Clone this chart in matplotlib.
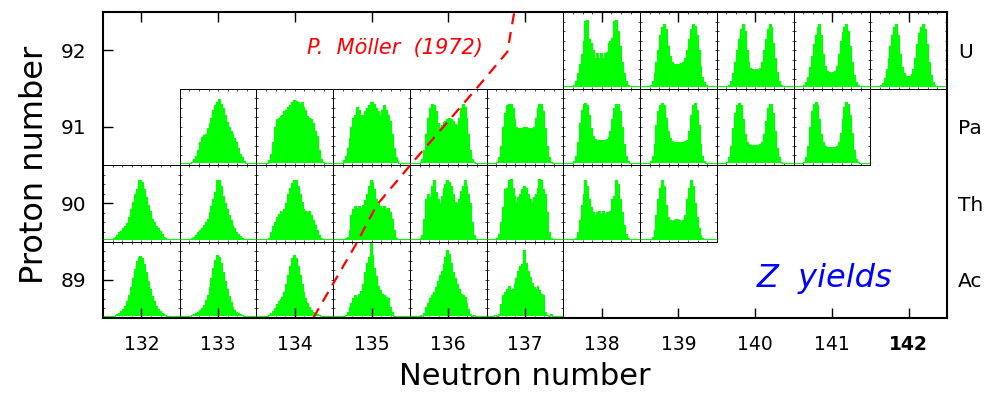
import matplotlib
matplotlib.use("Agg")
import matplotlib.pyplot as plt
import numpy as np

# neutron / proton grid
neutrons = [132, 133, 134, 135, 136, 137, 138, 139, 140, 141, 142]
protons = [89, 90, 91, 92]
element_names = ["Ac", "Th", "Pa", "U"]

# charge-yield histograms, heights in % of the panel, bins 4..35 of 40
u_yields = {
    138: [3, 5, 10, 20, 32, 45, 62, 88, 90, 65, 60, 50, 40, 46, 40, 46, 40, 46, 48, 60, 62, 66, 88, 90, 75, 55, 35, 20, 10, 5, 3, 3],
    139: [3, 5, 10, 20, 35, 50, 70, 80, 85, 78, 55, 42, 35, 32, 32, 32, 32, 33, 35, 40, 50, 65, 78, 85, 82, 70, 50, 30, 15, 8, 4, 3],
    140: [3, 3, 5, 10, 20, 35, 50, 65, 78, 84, 75, 50, 35, 27, 25, 24, 25, 24, 27, 35, 50, 65, 78, 84, 80, 60, 40, 22, 10, 5, 3, 3],
    141: [3, 4, 8, 15, 28, 42, 58, 70, 80, 84, 70, 45, 30, 23, 21, 20, 21, 23, 30, 45, 62, 74, 80, 84, 75, 55, 35, 18, 8, 4, 3, 3],
    142: [3, 4, 7, 14, 26, 40, 56, 70, 80, 84, 70, 45, 28, 20, 17, 16, 17, 19, 25, 40, 58, 72, 80, 84, 78, 58, 35, 18, 8, 4, 3, 3],
}
pa_yields = {
    133: [3, 3, 4, 8, 12, 20, 30, 36, 39, 41, 48, 55, 62, 72, 78, 82, 86, 80, 75, 65, 56, 50, 44, 40, 35, 30, 22, 14, 10, 5, 3, 3],
    134: [3, 3, 6, 15, 30, 50, 60, 62, 64, 66, 70, 72, 76, 78, 82, 85, 84, 82, 80, 82, 76, 72, 64, 62, 60, 55, 45, 38, 20, 8, 4, 3],
    135: [3, 6, 12, 22, 35, 50, 62, 66, 76, 72, 66, 66, 70, 74, 78, 82, 82, 80, 74, 70, 66, 72, 78, 72, 65, 58, 40, 22, 10, 5, 3, 3],
    136: [3, 4, 8, 20, 40, 62, 75, 80, 78, 70, 55, 50, 52, 56, 58, 60, 61, 60, 58, 54, 52, 62, 75, 80, 76, 62, 40, 20, 8, 4, 3, 3],
    137: [3, 4, 10, 25, 50, 68, 78, 80, 80, 75, 60, 50, 47, 48, 49, 50, 50, 49, 48, 47, 50, 62, 75, 80, 80, 70, 48, 25, 10, 4, 3, 3],
    138: [3, 5, 12, 30, 55, 72, 80, 81, 78, 65, 48, 38, 34, 33, 33, 33, 33, 33, 34, 36, 45, 60, 75, 80, 80, 70, 50, 28, 12, 5, 3, 3],
    139: [3, 5, 12, 28, 52, 70, 79, 81, 78, 62, 45, 35, 31, 30, 30, 30, 30, 30, 30, 31, 33, 45, 65, 78, 81, 72, 52, 28, 12, 5, 3, 3],
    140: [3, 4, 10, 25, 48, 68, 78, 81, 78, 60, 40, 30, 27, 26, 26, 26, 26, 26, 27, 30, 40, 58, 74, 80, 80, 68, 45, 22, 10, 4, 3, 3],
    141: [3, 4, 10, 25, 50, 70, 80, 83, 78, 60, 40, 30, 25, 24, 23, 24, 23, 24, 25, 30, 42, 60, 76, 82, 80, 65, 42, 20, 8, 4, 3, 3],
}
th_yields = {
    132: [3, 4, 6, 9, 12, 14, 17, 20, 24, 32, 42, 52, 62, 68, 80, 80, 78, 68, 58, 48, 40, 30, 25, 20, 17, 14, 10, 6, 4, 3, 3, 3],
    133: [3, 3, 4, 6, 9, 12, 15, 18, 21, 25, 30, 38, 46, 55, 65, 80, 80, 72, 60, 50, 42, 34, 28, 22, 17, 13, 10, 7, 4, 3, 3, 3],
    134: [3, 3, 5, 12, 20, 26, 32, 36, 40, 38, 42, 50, 62, 70, 76, 80, 80, 72, 62, 52, 42, 40, 38, 40, 34, 28, 22, 15, 8, 4, 3, 3],
    135: [3, 3, 4, 6, 15, 35, 42, 46, 44, 46, 44, 48, 54, 62, 72, 80, 78, 68, 56, 50, 46, 44, 46, 42, 44, 38, 30, 15, 5, 3, 3, 3],
    136: [3, 4, 8, 30, 55, 62, 58, 72, 80, 65, 55, 50, 60, 70, 75, 80, 78, 72, 62, 52, 50, 56, 66, 72, 80, 72, 62, 50, 25, 8, 3, 3],
    137: [3, 4, 10, 25, 45, 68, 70, 80, 82, 70, 60, 52, 58, 62, 68, 72, 70, 62, 55, 52, 58, 62, 70, 82, 80, 68, 62, 38, 12, 4, 3, 3],
    138: [3, 3, 5, 12, 28, 48, 62, 80, 72, 55, 45, 38, 34, 38, 40, 36, 40, 36, 38, 34, 40, 55, 60, 80, 75, 55, 38, 22, 10, 4, 3, 3],
    139: [3, 3, 6, 15, 35, 55, 70, 80, 72, 48, 32, 28, 27, 28, 30, 30, 28, 27, 28, 35, 55, 70, 80, 72, 50, 32, 18, 8, 4, 3, 3, 3],
}
ac_yields = {
    132: [3, 3, 4, 5, 7, 9, 12, 16, 22, 30, 40, 52, 64, 74, 80, 81, 78, 70, 60, 48, 38, 29, 22, 16, 12, 9, 7, 5, 4, 3, 3, 3],
    133: [3, 3, 4, 5, 6, 8, 10, 13, 17, 23, 30, 40, 52, 65, 76, 83, 80, 72, 60, 48, 38, 29, 21, 15, 11, 8, 6, 5, 4, 3, 3, 3],
    134: [3, 3, 4, 6, 9, 13, 18, 22, 25, 28, 34, 44, 56, 68, 78, 83, 78, 68, 56, 44, 34, 26, 20, 15, 11, 8, 6, 5, 4, 3, 3, 3],
    135: [3, 1, 4, 8, 14, 20, 26, 30, 28, 32, 35, 45, 60, 72, 80, 98, 82, 66, 55, 42, 36, 32, 30, 28, 26, 15, 8, 2, 0, 3, 2, 3],
    136: [3, 4, 2, 6, 14, 20, 26, 30, 34, 40, 48, 56, 62, 70, 80, 89, 84, 72, 60, 52, 44, 38, 32, 30, 28, 20, 12, 5, 2, 4, 3, 3],
    137: [4, 3, 5, 18, 30, 34, 38, 42, 36, 38, 45, 52, 62, 68, 70, 89, 72, 62, 54, 46, 40, 38, 42, 36, 32, 30, 8, 4, 3, 5, 3, 3],
}
yield_rows = {89: ac_yields, 90: th_yields, 91: pa_yields, 92: u_yields}

# P. Moller (1972) boundary
moller_n = [134.24, 134.80, 135.07, 135.54, 136.41, 136.77, 136.86]
moller_z = [88.5, 89.47, 89.98, 90.54, 91.55, 91.98, 92.5]

green = "#00ff00"

fig = plt.figure(figsize=(9.88, 4.01), dpi=100)
ax = fig.add_axes([0.1043, 0.207, 0.8542, 0.763])
ax.set_xlim(131.5, 142.5)
ax.set_ylim(88.5, 92.5)

n_bins = 40
edges = np.linspace(0, 1, n_bins + 1)
for z, row in yield_rows.items():
    for n, vals in row.items():
        full = np.full(n_bins, 3.0)
        full[4:4 + len(vals)] = vals
        sub = ax.inset_axes([n - 0.5, z - 0.5, 1, 1], transform=ax.transData, zorder=1)
        sub.fill_between(edges, np.append(full, full[-1]), 2, step="post",
                         facecolor=green, edgecolor="none", antialiased=False)
        sub.step(edges, np.append(full, full[-1]), where="post", color=green, lw=0.8)
        sub.set_xlim(0, 1)
        sub.set_ylim(0, 100)
        sub.set_xticks(np.arange(1, 8) / 8)
        sub.set_yticks(np.arange(1, 8) * 12.5)
        sub.tick_params(direction="in", length=1.3, width=0.5, top=True, right=True,
                        labelbottom=False, labelleft=False)
        for sp in sub.spines.values():
            sp.set_linewidth(0.7)

ax.plot(moller_n, moller_z, color="red", ls=(0, (5, 3.5)), lw=1.6, zorder=10)
ax.text(135.3, 92.03, "P.  Möller  (1972)", color="red", style="italic",
        fontsize=15, ha="center", va="center", zorder=10)
ax.text(140.9, 89.02, "Z  yields", color="blue", style="italic",
        fontsize=23, ha="center", va="center")

ax.set_xticks(neutrons)
ax.set_yticks(protons)
ax.set_xticklabels([str(n) for n in neutrons], fontsize=13.5)
ax.get_xticklabels()[-1].set_fontweight("bold")
ax.set_yticklabels([str(z) for z in protons], fontsize=14.5)
ax.tick_params(direction="in", length=7, width=1.0, top=True, right=True, pad=12)
for sp in ax.spines.values():
    sp.set_linewidth(1.5)
    sp.set_zorder(12)

ax2 = ax.twinx()
ax2.set_ylim(88.5, 92.5)
ax2.set_yticks(protons)
ax2.set_yticklabels(element_names, fontsize=14.5)
ax2.tick_params(direction="in", length=0, pad=8)
for sp in ax2.spines.values():
    sp.set_visible(False)

ax.set_xlabel("Neutron number", fontsize=22, labelpad=6)
ax.set_ylabel("Proton number", fontsize=23, labelpad=8)

fig.savefig("out.png", dpi=100)
